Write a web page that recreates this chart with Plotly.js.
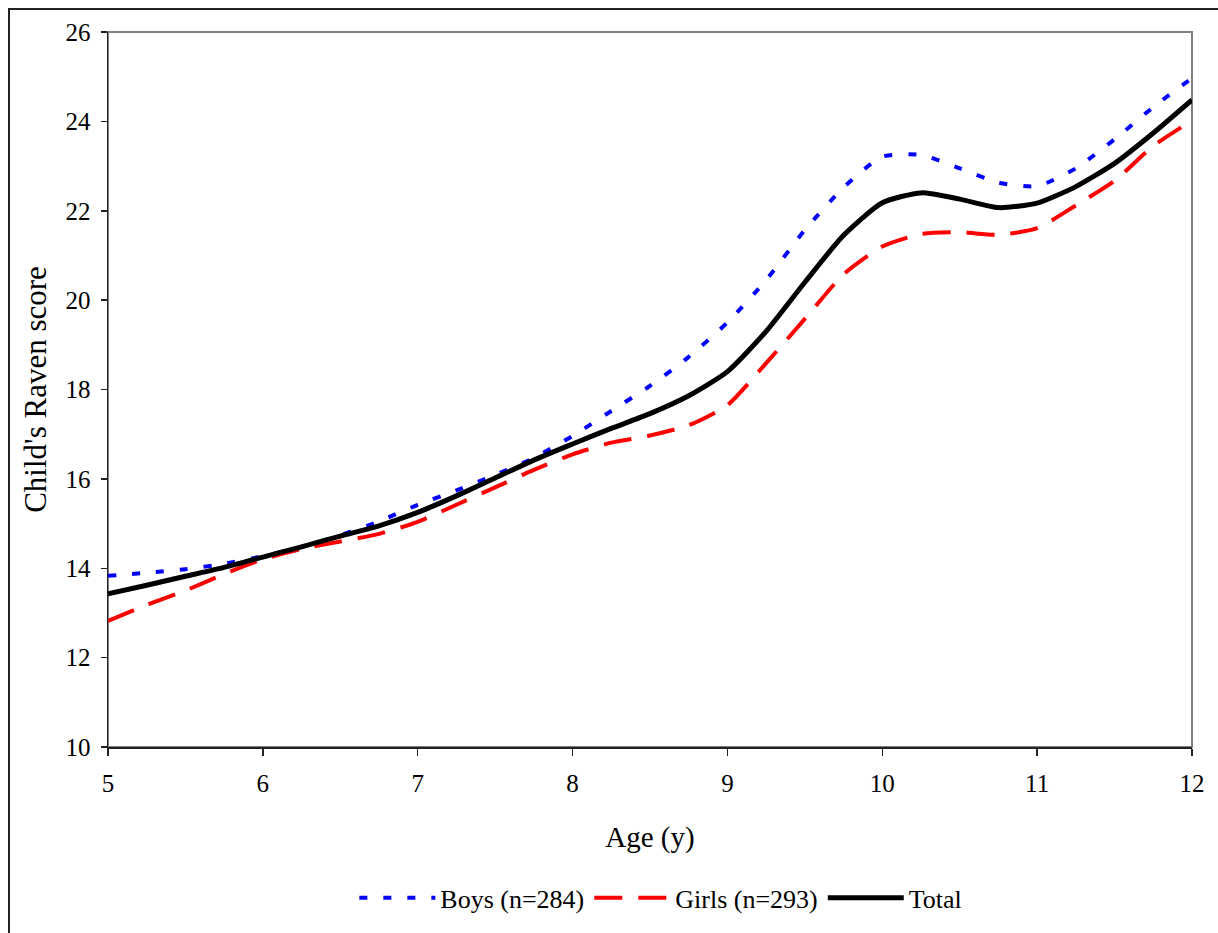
<!DOCTYPE html>
<html>
<head>
<meta charset="utf-8">
<script src="https://cdn.plot.ly/plotly-3.0.1.min.js"></script>
<style>
  html, body { margin: 0; padding: 0; background: #fff; overflow: hidden; }
  #frame { position: absolute; left: 8px; top: 8px; width: 1240px; height: 960px;
           border-left: 2px solid #222; border-top: 2px solid #222; box-sizing: border-box; }
  #chart { position: absolute; left: 0; top: 0; width: 1218px; height: 933px; }
</style>
</head>
<body>
<div id="frame"></div>
<div id="chart"></div>
<script>
const ages = [5, 5.25, 5.5, 5.75, 6, 6.25, 6.5, 6.75, 7, 7.25, 7.5, 7.75, 8, 8.25, 8.5, 8.75,
              9, 9.25, 9.5, 9.75, 10, 10.25, 10.5, 10.75, 11, 11.25, 11.5, 11.75, 12];
const boys = [13.83, 13.90, 13.98, 14.10, 14.27, 14.48, 14.74, 15.05, 15.42, 15.74, 16.09, 16.47,
              16.96, 17.52, 18.08, 18.73, 19.50, 20.45, 21.57, 22.52, 23.21, 23.25, 22.95, 22.63,
              22.55, 22.95, 23.60, 24.32, 24.97];
const girls = [12.82, 13.18, 13.50, 13.87, 14.20, 14.43, 14.60, 14.77, 15.04, 15.42, 15.81, 16.20,
               16.55, 16.81, 16.97, 17.20, 17.65, 18.59, 19.58, 20.58, 21.20, 21.48, 21.52, 21.46,
               21.61, 22.12, 22.67, 23.45, 24.02];
const total = [13.43, 13.62, 13.82, 14.02, 14.25, 14.48, 14.72, 14.95, 15.25, 15.62, 16.02, 16.42,
               16.78, 17.13, 17.46, 17.86, 18.40, 19.30, 20.40, 21.45, 22.18, 22.40, 22.26, 22.07,
               22.17, 22.54, 23.06, 23.74, 24.48];
const seriesNames = ["Boys (n=284)", "Girls (n=293)", "Total"];
const xTicks = [5, 6, 7, 8, 9, 10, 11, 12];
const yTicks = [10, 12, 14, 16, 18, 20, 22, 24, 26];

const font = "'Liberation Serif', 'Times New Roman', serif";

const traces = [
  { x: ages, y: boys, name: seriesNames[0], mode: "lines",
    line: { color: "#0000FF", width: 4, dash: "8px,16px", shape: "spline", smoothing: 0.6 } },
  { x: ages, y: girls, name: seriesNames[1], mode: "lines",
    line: { color: "#FF0000", width: 4, dash: "28px,16px", shape: "spline", smoothing: 0.6 } },
  { x: ages, y: total, name: seriesNames[2], mode: "lines",
    line: { color: "#000000", width: 5, shape: "spline", smoothing: 0.6 } }
];

const layout = {
  width: 1218, height: 933,
  margin: { l: 108, r: 26, t: 32, b: 186, pad: 0 },
  paper_bgcolor: "rgba(0,0,0,0)",
  plot_bgcolor: "#fff",
  font: { family: font, color: "#000", size: 25 },
  showlegend: true,
  legend: { orientation: "h", x: 0.51, xanchor: "center", y: -0.211, yanchor: "middle",
            font: { family: font, size: 26, color: "#000" }, itemwidth: 76,
            tracegroupgap: 0, bgcolor: "rgba(0,0,0,0)" },
  xaxis: {
    range: [5, 12], tickvals: xTicks, ticktext: xTicks.map(String),
    showgrid: false, zeroline: false, showline: true, linecolor: "#222", linewidth: 1.5,
    ticks: "outside", ticklen: 7, tickcolor: "#222", tickwidth: 1.5, ticklabelstandoff: 6,
    tickfont: { family: font, size: 25, color: "#000" },
    title: { text: "Age (y)", font: { family: font, size: 29, color: "#000" }, standoff: 31 },
    automargin: false
  },
  yaxis: {
    range: [10, 26], tickvals: yTicks, ticktext: yTicks.map(String),
    showgrid: false, zeroline: false, showline: true, linecolor: "#222", linewidth: 1.5,
    ticks: "outside", ticklen: 6, tickcolor: "#222", tickwidth: 1.5, ticklabelstandoff: 5,
    tickfont: { family: font, size: 25, color: "#000" },
    title: { text: "Child's Raven score", font: { family: font, size: 31, color: "#000" }, standoff: 9 },
    automargin: false
  },
  shapes: [
    { type: "rect", xref: "paper", yref: "paper", x0: 0, x1: 1, y0: 0, y1: 1,
      line: { color: "#808080", width: 2 }, layer: "below" }
  ]
};

Plotly.newPlot("chart", traces, layout, { displayModeBar: false, staticPlot: true });
</script>
</body>
</html>
